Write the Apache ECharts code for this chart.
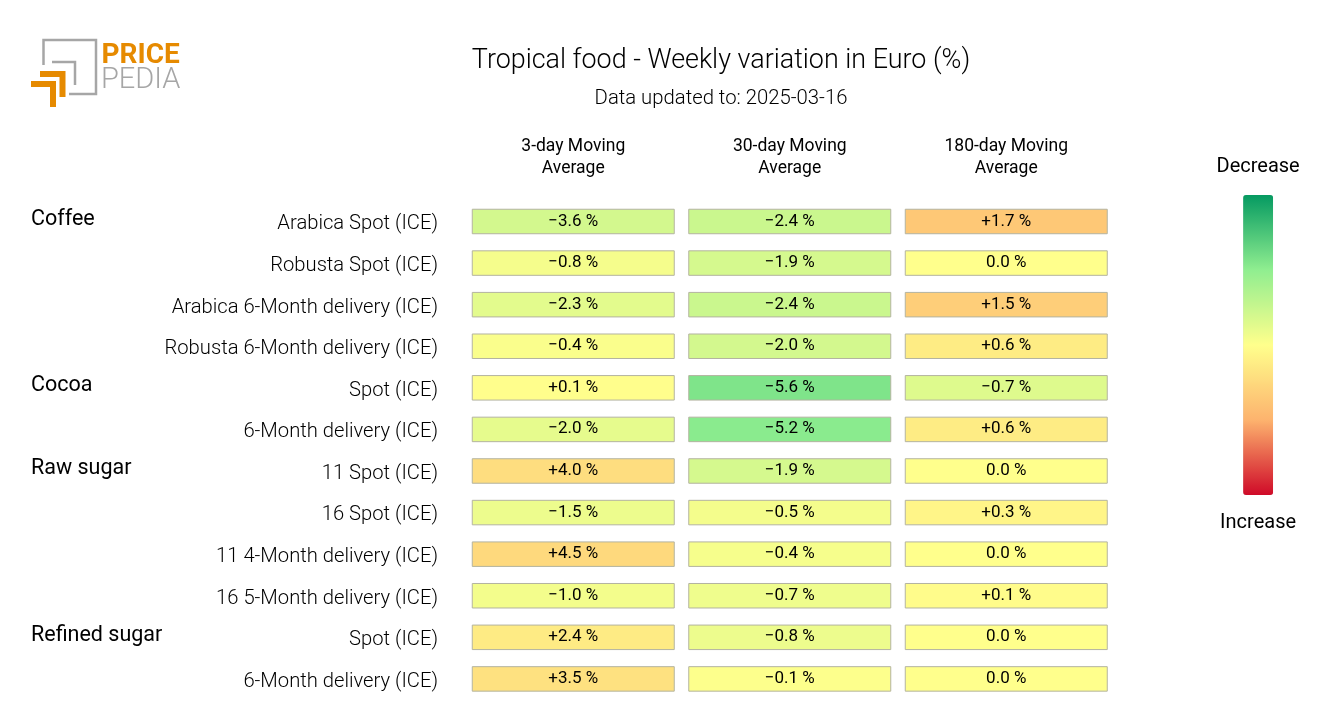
<!DOCTYPE html>
<html>
<head>
<meta charset="utf-8">
<script src="https://cdn.jsdelivr.net/npm/echarts@6/dist/echarts.min.js"></script>
<style>
  html, body { margin: 0; background: #fff; }
  #chart { width: 1320px; height: 720px; }
</style>
</head>
<body>
<div id="chart"></div>
<script>
var FONT = "Roboto, sans-serif";

var columns = ["3-day Moving\nAverage", "30-day Moving\nAverage", "180-day Moving\nAverage"];
var rows = [
  "Arabica Spot (ICE)",
  "Robusta Spot (ICE)",
  "Arabica 6-Month delivery (ICE)",
  "Robusta 6-Month delivery (ICE)",
  "Spot (ICE)",
  "6-Month delivery (ICE)",
  "11 Spot (ICE)",
  "16 Spot (ICE)",
  "11 4-Month delivery (ICE)",
  "16 5-Month delivery (ICE)",
  "Spot (ICE)",
  "6-Month delivery (ICE)"
];
var groups = ["Coffee", "", "", "", "Cocoa", "", "Raw sugar", "", "", "", "Refined sugar", ""];

var threeDay = [-3.6, -0.8, -2.3, -0.4, 0.1, -2.0, 4.0, -1.5, 4.5, -1.0, 2.4, 3.5];
var thirtyDay = [-2.4, -1.9, -2.4, -2.0, -5.6, -5.2, -1.9, -0.5, -0.4, -0.7, -0.8, -0.1];
var longDay = [1.7, 0.0, 1.5, 0.6, -0.7, 0.6, 0.0, 0.3, 0.0, 0.1, 0.0, 0.0];

// every column has its own colour range in the reference
var columnValues = [threeDay, thirtyDay, longDay];
var columnRanges = [18, 10, 4.7];

var scaleColors = ["#059a61", "#90ee90", "#ffff8c", "#fdb36e", "#cf0a28"];

function formatValue(v) {
  if (v === 0) return "0.0 %";
  return (v > 0 ? "+" : "\u2212") + Math.abs(v).toFixed(1) + " %";
}

function renderCell(params, api) {
  var center = api.coord([api.value(0), api.value(1)]);
  var band = api.size([1, 1]);
  var w = band[0] - 14.5;
  var h = 24.5;
  return {
    type: "group",
    children: [
      {
        type: "rect",
        shape: { x: center[0] - w / 2, y: center[1] - h / 2 - 0.3, width: w, height: h },
        style: { fill: api.visual("color"), stroke: "#b4b4a0", lineWidth: 1 }
      },
      {
        type: "text",
        x: center[0],
        y: center[1] - 0.5,
        style: {
          text: formatValue(api.value(2)),
          fill: "#000",
          font: "17px " + FONT,
          align: "center",
          verticalAlign: "middle"
        }
      }
    ]
  };
}

var series = columnValues.map(function (list, c) {
  return {
    type: "custom",
    coordinateSystem: "cartesian2d",
    renderItem: renderCell,
    encode: { x: 0, y: 1 },
    data: list.map(function (v, r) {
      return [c, r, v];
    })
  };
});

var visualMaps = columnRanges.map(function (range, c) {
  return {
    type: "continuous",
    show: c === 0, // only one is drawn, as the Decrease / Increase bar
    min: -range,
    max: range,
    inverse: true,
    calculable: false,
    seriesIndex: c,
    dimension: 2,
    orient: "vertical",
    left: 1201.5,
    top: 142,
    itemWidth: 30,
    itemHeight: 300,
    textGap: 18,
    text: ["Increase", "Decrease"],
    textStyle: { color: "#000", fontSize: 20, fontFamily: FONT },
    inRange: { color: scaleColors }
  };
});

var chart = echarts.init(document.getElementById("chart"));

chart.setOption({
  backgroundColor: "#fff",
  animation: false,
  textStyle: { fontFamily: FONT },
  title: {
    text: "Tropical food - Weekly variation in Euro (%)",
    subtext: "Data updated to: 2025-03-16",
    left: 716,
    top: 43,
    textAlign: "center",
    itemGap: 14,
    textStyle: { fontFamily: FONT, fontSize: 26.9, fontWeight: 300, color: "#000" },
    subtextStyle: { fontFamily: FONT, fontSize: 20.3, fontWeight: 300, color: "#000" }
  },
  grid: { left: 465, top: 201, width: 649.5, height: 499 },
  xAxis: {
    type: "category",
    position: "top",
    data: columns,
    axisLine: { show: false },
    axisTick: { show: false },
    splitLine: { show: false },
    axisLabel: { color: "#000", fontSize: 17.5, lineHeight: 22, margin: 21, fontFamily: FONT }
  },
  yAxis: [
    {
      type: "category",
      inverse: true,
      data: rows,
      axisLine: { show: false },
      axisTick: { show: false },
      splitLine: { show: false },
      axisLabel: {
        color: "#000",
        fontSize: 20.2,
        fontWeight: 300,
        margin: 27,
        verticalAlign: "top",
        lineHeight: 5,
        interval: 0,
        fontFamily: FONT
      }
    },
    {
      type: "category",
      inverse: true,
      position: "left",
      data: groups,
      axisLine: { show: false },
      axisTick: { show: false },
      axisLabel: {
        color: "#000",
        fontSize: 21.5,
        margin: 434,
        align: "left",
        verticalAlign: "bottom",
        lineHeight: 5,
        interval: 0,
        fontFamily: FONT
      }
    }
  ],
  visualMap: visualMaps,
  graphic: [
    { type: "polyline", shape: { points: [[43.5, 65], [43.5, 40], [96, 40], [96, 94], [69, 94]] }, style: { fill: "none", stroke: "#a6a6a6", lineWidth: 2.5 } },
    { type: "polyline", shape: { points: [[52, 62], [75, 62], [75, 85]] }, style: { fill: "none", stroke: "#a6a6a6", lineWidth: 2.5 } },
    { type: "polyline", shape: { points: [[40, 74], [62.5, 74], [62.5, 97]] }, style: { fill: "none", stroke: "#e68a00", lineWidth: 6 } },
    { type: "polyline", shape: { points: [[31, 84], [53, 84], [53, 107]] }, style: { fill: "none", stroke: "#e68a00", lineWidth: 6 } },
    { type: "text", x: 101.5, y: 42, style: { text: "PRICE", fill: "#e68a00", font: "bold 28px Roboto, sans-serif" } },
    { type: "text", x: 101, y: 66, style: { text: "PEDIA", fill: "#a6a6a6", font: "300 29px Roboto, sans-serif" } }
  ],
  series: series
});
</script>
</body>
</html>
